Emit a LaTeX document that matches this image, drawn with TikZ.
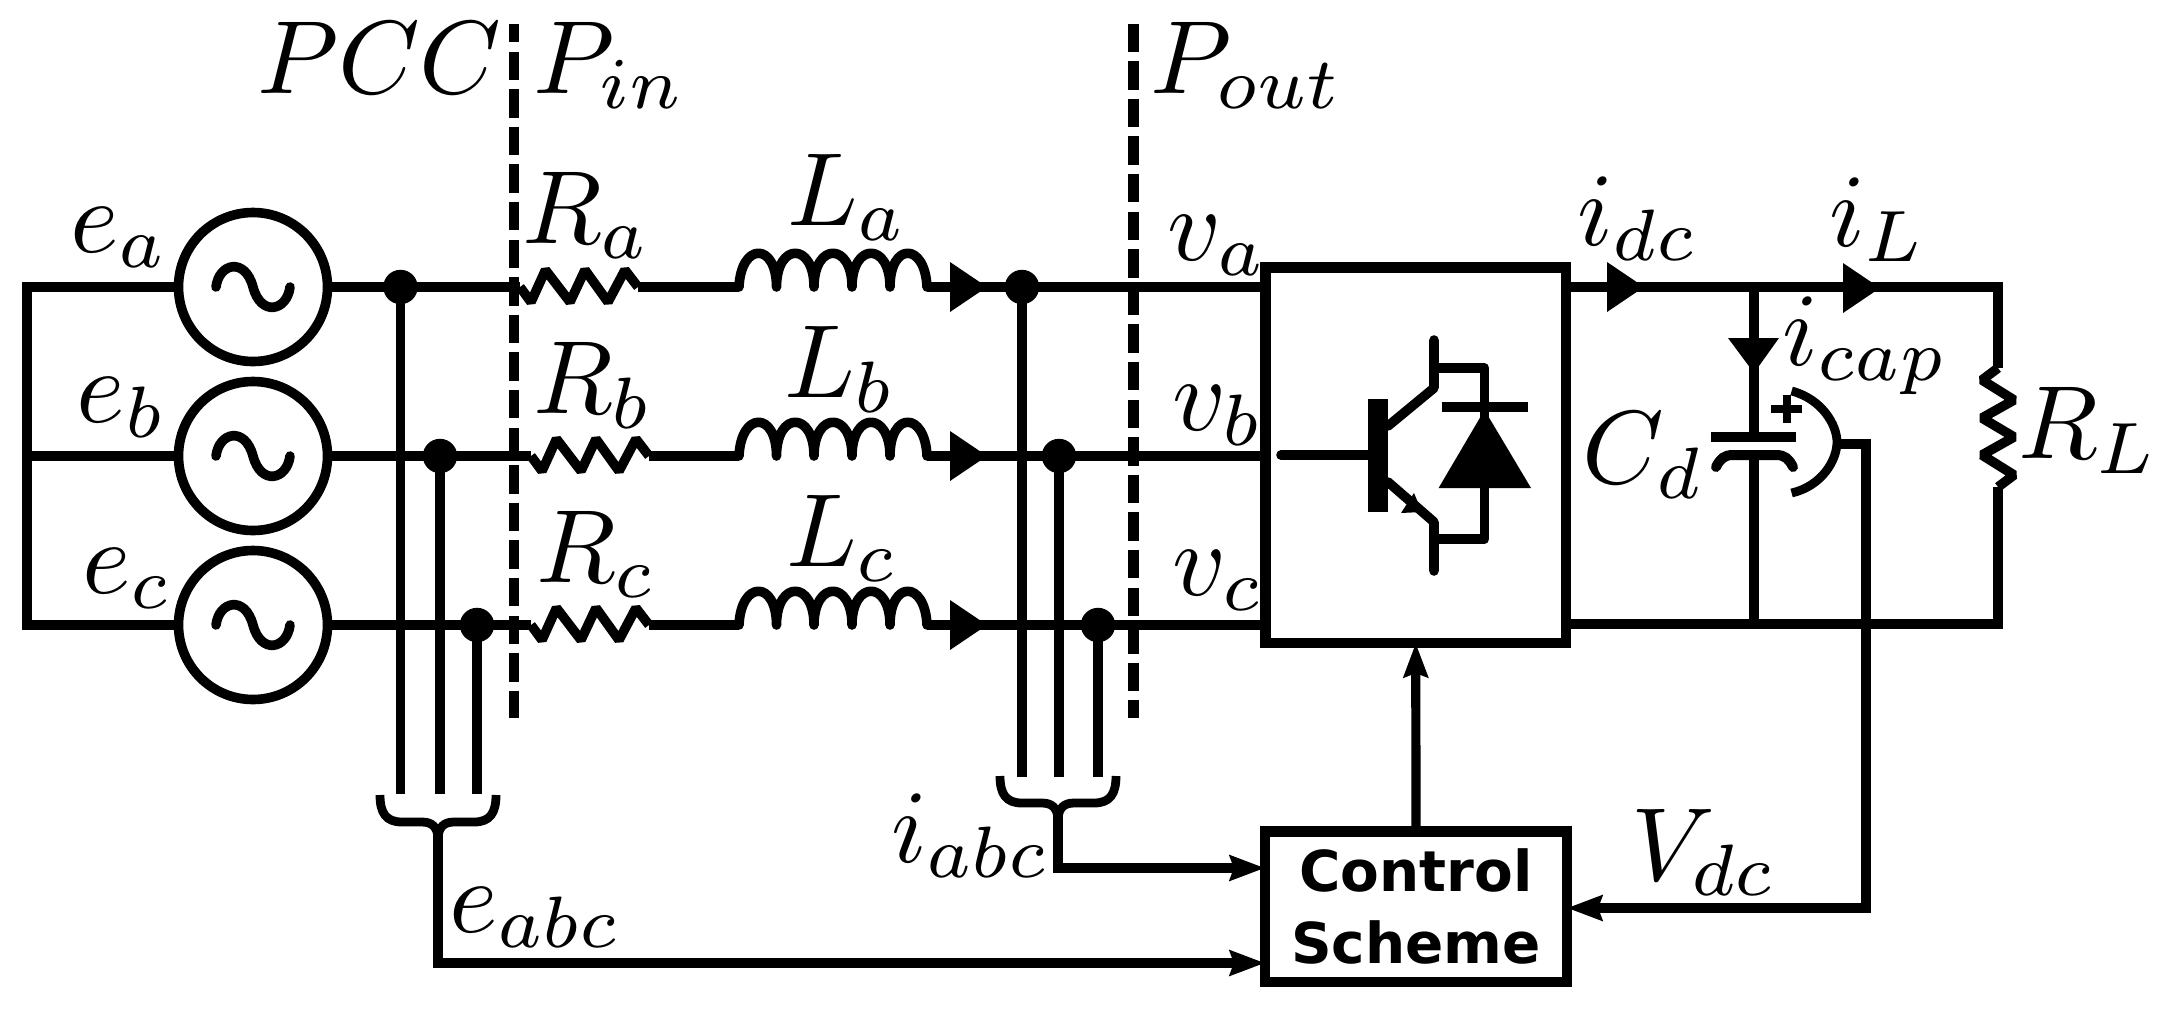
\RequirePackage{fix-cm}
\documentclass[tikz,border=0pt]{standalone}
\usepackage[no-math]{fontspec}
\setsansfont{DejaVu Sans}
\usetikzlibrary{arrows.meta}
\DeclareMathSizes{26}{26}{18.2}{13}
\DeclareFontShape{OML}{cmm}{m}{it}{<-20>cmmi7 <20->cmmi10}{\skewchar\font'177}
\tikzset{
  wire/.style={line width=2.5pt,line join=miter},
  thin wire/.style={line width=2.3pt},
  zig/.style={line width=2.4pt,line join=bevel},
  coil/.style={line width=2.4pt,line join=round,line cap=round},
  source/.style={circle,draw,line width=2.4pt,minimum size=37.25pt,inner sep=0pt,outer sep=0pt},
  dot/.style={circle,fill,minimum size=8.6pt,inner sep=0pt,outer sep=0pt},
  box/.style={rectangle,draw,line width=2.7pt,inner sep=0pt,outer sep=0pt},
  lab/.style={anchor=base west,inner sep=0pt,outer sep=0pt,font=\fontsize{26}{30}\selectfont},
  bdash/.style={line width=2.6pt,dash pattern=on 7.1pt off 2.3pt},
  tipped/.style={thin wire,-{Stealth[length=8.75pt,width=6.2pt,inset=1pt]}},
  igbt/.style={line width=2.4pt},
  pics/tri/.style={code={\fill (0,-25) -- (37,0) -- (0,25) -- cycle;}},
  pics/tilde/.style={code={\draw[line width=2.4pt,line cap=round] (-37,0) .. controls (-34,-24) and (-8,-30) .. (0,0) .. controls (8,30) and (34,24) .. (37,0);}},
  pics/brace/.style={code={\draw[line width=2.2pt,line join=miter] (-58,0) .. controls (-58,18) and (-52,27) .. (-36,27) -- (-16,27) .. controls (-6,27) and (-1,32) .. (0,42) .. controls (1,32) and (6,27) .. (16,27) -- (36,27) .. controls (52,27) and (58,18) .. (58,0);}},
}
\begin{document}
\begin{tikzpicture}[x=0.25pt,y=-0.25pt]
\useasboundingbox (0,0) rectangle (2175,1008);

% boxes
\node[box,minimum width=75.1pt,minimum height=93.9pt] (conv) at (1415.75,455.25) {};
\node[box,minimum width=75.5pt,minimum height=37.6pt,align=center,font=\fontsize{14.1}{18}\selectfont\sffamily\bfseries] (ctrl) at (1416,906.75) {Control\\Scheme};

% three phase lines
\foreach \p/\y/\s in {a/287/0,b/456/11,c/625/11}{
  \node[source] (e\p) at (253,\y) {};
  \pic at (e\p.center) {tilde};
  \coordinate (bus\p) at (27,\y);
  \coordinate (rs\p) at ({520+\s},\y);
  \coordinate (re\p) at ({638+\s},\y);
  \coordinate (ls\p) at (739,\y);
  \coordinate (le\p) at (927,\y);
  \draw[wire] (e\p.east) -- (rs\p);
  \draw[zig] (rs\p) -- ++(11,15) -- ++(14.5,-32) -- ++(24.5,32) -- ++(15,-32) -- ++(23,32) -- ++(17,-32) -- (re\p);
  \draw[wire] (re\p) -- (ls\p);
  \draw[coil] (ls\p) .. controls +(2,-45) and +(0,-45) .. ++(37.5,0)
    .. controls +(0,-45) and +(0,-45) .. ++(37.5,0)
    .. controls +(0,-45) and +(0,-45) .. ++(38,0)
    .. controls +(0,-45) and +(0,-45) .. ++(38,0)
    .. controls +(0,-45) and +(-2,-45) .. (le\p);
  \draw[wire] (le\p) -- (le\p -| conv.west);
  \pic at (950,\y) {tri};
}
\draw[wire] (ea.west) -- (busa) -- (busc) -- (ec.west);
\draw[wire] (eb.west) -- (busb);

% sensing dots
\node[dot] (d1) at (400.5,287) {};
\node[dot] (d2) at (440,456) {};
\node[dot] (d3) at (477,625) {};
\node[dot] (d4) at (1022,287) {};
\node[dot] (d5) at (1059,456) {};
\node[dot] (d6) at (1098,625) {};
\coordinate (sv) at (0,794);
\coordinate (si) at (0,777);
\foreach \d in {d1,d2,d3}{\draw[thin wire] (\d.center) -- (\d |- sv);}
\foreach \d in {d4,d5,d6}{\draw[thin wire] (\d.center) -- (\d |- si);}

% braces
\coordinate (bv) at (438,795);
\coordinate (bi) at (1058,776);
\pic at (bv) {brace};
\pic at (bi) {brace};
\coordinate (bvt) at (438,835);
\coordinate (bit) at (1058,815);
\draw[tipped] (bvt) |- (ctrl.west |- 0,963);
\draw[tipped] (bit) |- (ctrl.west |- 0,868);

% dashed planes
\coordinate (p1t) at (514,23.5);
\coordinate (p1b) at (514,718);
\coordinate (p2t) at (1133.5,23.5);
\coordinate (p2b) at (1133.5,718);
\draw[line width=2.6pt,dash pattern=on 7.1pt off 2.3pt,dash phase=2.4pt] (p1t) -- (p1b);
\draw[bdash] (p2t) -- (p2b);

% dc side
\coordinate (tj) at (1754,287);
\coordinate (bj) at (1754,624);
\coordinate (tr) at (1998,287);
\coordinate (br) at (1998,624);
\coordinate (rlt) at (1998,368);
\coordinate (rlb) at (1998,487);
\draw[wire] (conv.east |- tr) -- (tr) -- (rlt);
\draw[zig] (rlt) -- (1982,380) -- (2014,400) -- (1982,418) -- (2014,437) -- (1982,455) -- (2014,475) -- (rlb);
\draw[wire] (rlb) -- (br) -- (conv.east |- br);
\pic at (1607,287) {tri};
\pic at (1843,288) {tri};
\coordinate (pt) at (1754,437);
\coordinate (pb) at (1754,455);
\draw[wire] (tj) -- (pt);
\draw[wire] (pb) -- (bj);
\fill (1728,338) -- (1779,338) -- (1754,373) -- cycle;
\draw[line width=2.5pt] (1711,437) -- (1796,437);
\draw[line width=2.5pt,line cap=round] (1716,467) .. controls (1720,459) and (1724,455) .. (1733,455) -- (1776,455) .. controls (1785,455) and (1789,459) .. (1793,467);

% current sensor and Vdc
\draw[line width=2.2pt] (1791.6,391) .. controls (1822,399) and (1837,425) .. (1837,442) .. controls (1837,460) and (1822,486) .. (1791.6,493);
\draw[line width=1.8pt] (1771,409) -- (1802,409);
\draw[line width=1.8pt] (1787,395) -- (1787,423);
\coordinate (sn) at (1838,444);
\coordinate (vc) at (1866,444);
\draw[tipped] (sn) -- (vc) |- (ctrl.east |- 0,908);

% control to converter
\draw[thin wire,-{Stealth[length=8.5pt,width=6pt,inset=1pt]}] (ctrl.north) -- (conv.south);

% igbt
\fill (1368,399) rectangle (1388,512);
\draw[igbt,line cap=round] (1281,455) -- (1368,455);
\draw[igbt,line cap=round,line join=round] (1434,340) -- (1434,388) -- (1388,426);
\draw[igbt,line join=round] (1434,368) -- (1484.5,368) -- (1484.5,420);
\draw[igbt,line cap=round,line join=round] (1388,482) -- (1434,522) -- (1434,571);
\draw[igbt,line join=round] (1484.5,480) -- (1484.5,539) -- (1434,539);
\fill (1414,493) -- (1422,512) -- (1401,513) -- cycle;
\draw[line width=2.5pt] (1441.5,407) -- (1528,407);
\fill (1484.5,410) -- (1531,488) -- (1438.6,488) -- cycle;

% labels
\node[lab] (lpcc) at (257,93) {$PCC$};
\node[lab] (lpin) at (533,93) {$P_{in}$};
\node[lab] (lpout) at (1150,93) {$P_{out}$};
\node[lab] (lea) at (70,252) {$e_a$};
\node[lab] (leb) at (77,422) {$e_b$};
\node[lab] (lec) at (82,593) {$e_c$};
\node[lab] (lra) at (522,243) {$R_a$};
\node[lab] (lrb) at (533,413) {$R_b$};
\node[lab] (lrc) at (536,582) {$R_c$};
\node[lab] (lla) at (787,225) {$L_a$};
\node[lab] (llb) at (784,397) {$L_b$};
\node[lab] (llc) at (786,566) {$L_c$};
\node[lab] (lva) at (1167,260) {$v_a$};
\node[lab] (lvb) at (1172,430) {$v_b$};
\node[lab] (lvc) at (1172,595) {$v_c$};
\node[lab] (lidc) at (1577,245) {$i_{dc}$};
\node[lab] (lil) at (1829,246) {$i_L$};
\node[lab] (licap) at (1782,365) {$i_{cap}$};
\node[lab] (lcd) at (1582,483) {$C_d$};
\node[lab] (lrl) at (2018,458) {$R_L$};
\node[lab] (lvdc) at (1631,880) {$V_{dc}$};
\node[lab] (liabc) at (891,862) {$i_{abc}$};
\node[lab] (leabc) at (449,932) {$e_{abc}$};
\end{tikzpicture}
\end{document}
